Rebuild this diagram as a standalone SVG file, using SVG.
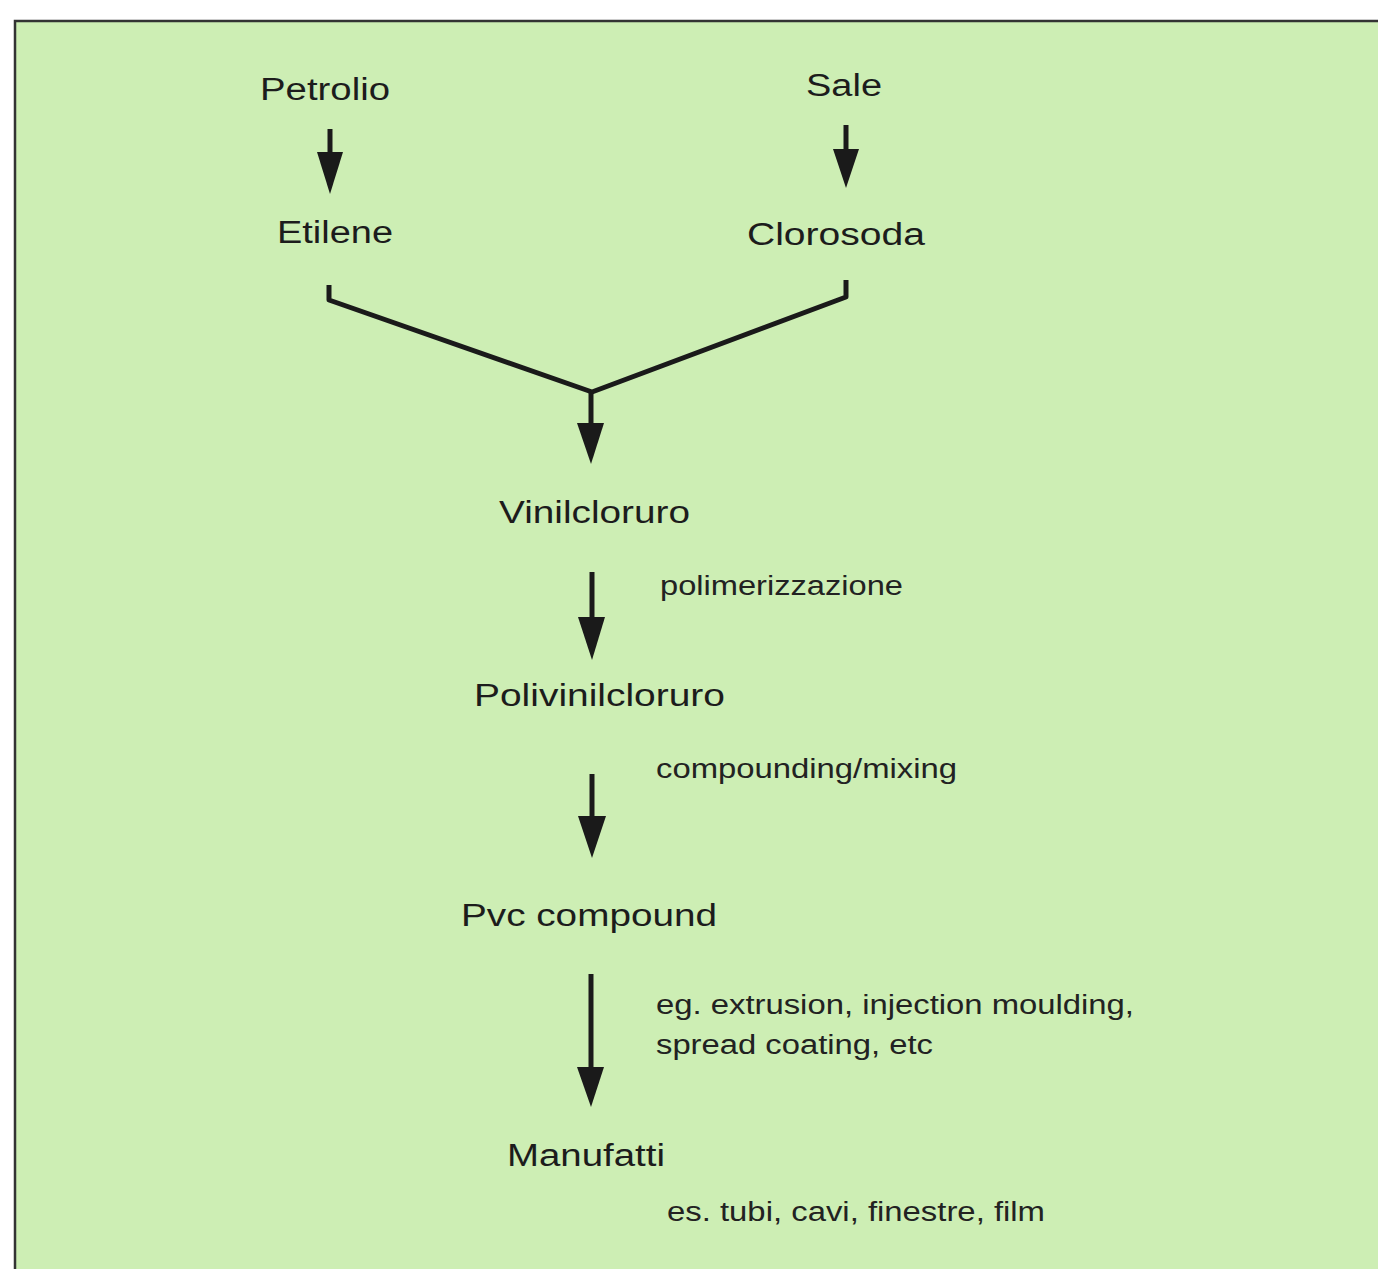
<svg xmlns="http://www.w3.org/2000/svg" width="1378" height="1269" viewBox="0 0 1378 1269">
<style>
.lbl{font-family:"Liberation Sans",Arial,Helvetica,sans-serif;font-size:31px;fill:#1c1c1c}
.sm{font-family:"Liberation Sans",Arial,Helvetica,sans-serif;font-size:27px;fill:#222}
.ln{stroke:#1a1a1a;stroke-width:5;fill:none;stroke-linejoin:round;stroke-linecap:butt}
.hd{fill:#1a1a1a}
</style>
<rect x="0" y="0" width="1378" height="1269" fill="#ffffff"/>
<rect x="15" y="21" width="1363" height="1248" fill="#cdeeb4"/>
<path d="M15 1269 V21 H1378" fill="none" stroke="#333" stroke-width="2.5"/>

<g id="connectors">
  <line class="ln" x1="330" y1="129" x2="330" y2="154"/>
  <polygon class="hd" points="317,152 343,152 330,194"/>
  <line class="ln" x1="846" y1="125" x2="846" y2="151"/>
  <polygon class="hd" points="833,149 859,149 846,188"/>
  <path class="ln" d="M329 285 V300 L592 392 L846 297 V280"/>
  <line class="ln" x1="591" y1="392" x2="591" y2="425"/>
  <polygon class="hd" points="577,423 604,423 591,464"/>
  <line class="ln" x1="592" y1="572" x2="592" y2="619"/>
  <polygon class="hd" points="578,617 605,617 592,660"/>
  <line class="ln" x1="592" y1="774" x2="592" y2="818"/>
  <polygon class="hd" points="578,816 606,816 592,858"/>
  <line class="ln" x1="591" y1="974" x2="591" y2="1069"/>
  <polygon class="hd" points="577,1067 604,1067 591,1107"/>
</g>

<g id="n-petrolio"><text class="lbl" x="260" y="100" textLength="130" lengthAdjust="spacingAndGlyphs">Petrolio</text></g>
<g id="n-sale"><text class="lbl" x="806" y="96" textLength="76" lengthAdjust="spacingAndGlyphs">Sale</text></g>
<g id="n-etilene"><text class="lbl" x="277" y="243" textLength="116" lengthAdjust="spacingAndGlyphs">Etilene</text></g>
<g id="n-clorosoda"><text class="lbl" x="747" y="245" textLength="178" lengthAdjust="spacingAndGlyphs">Clorosoda</text></g>
<g id="n-vinilcloruro"><text class="lbl" x="499" y="523" textLength="191" lengthAdjust="spacingAndGlyphs">Vinilcloruro</text></g>
<g id="l-polimerizzazione"><text class="sm" x="660" y="595" textLength="243" lengthAdjust="spacingAndGlyphs">polimerizzazione</text></g>
<g id="n-polivinilcloruro"><text class="lbl" x="474" y="706" textLength="251" lengthAdjust="spacingAndGlyphs">Polivinilcloruro</text></g>
<g id="l-compounding"><text class="sm" x="656" y="778" textLength="301" lengthAdjust="spacingAndGlyphs">compounding/mixing</text></g>
<g id="n-pvc"><text class="lbl" x="461" y="926" textLength="256" lengthAdjust="spacingAndGlyphs">Pvc compound</text></g>
<g id="l-process">
  <text class="sm" x="656" y="1014" textLength="478" lengthAdjust="spacingAndGlyphs">eg. extrusion, injection moulding,</text>
  <text class="sm" x="656" y="1054" textLength="277" lengthAdjust="spacingAndGlyphs">spread coating, etc</text>
</g>
<g id="n-manufatti"><text class="lbl" x="507" y="1166" textLength="158" lengthAdjust="spacingAndGlyphs">Manufatti</text></g>
<g id="l-examples"><text class="sm" x="667" y="1221" textLength="378" lengthAdjust="spacingAndGlyphs">es. tubi, cavi, finestre, film</text></g>
</svg>
